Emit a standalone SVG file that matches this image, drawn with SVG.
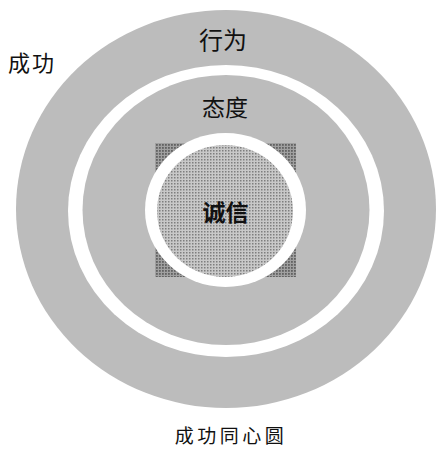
<svg xmlns="http://www.w3.org/2000/svg" width="436" height="450" viewBox="0 0 436 450">
  <style>
    .lbl { font-family: "Noto Sans CJK SC", "Noto Sans CJK TC", sans-serif; fill: #111111; text-anchor: middle; }
    .ring { fill: #bcbcbc; }
    .gap { fill: #ffffff; }
  </style>
  <defs>
    <pattern id="dots" width="3" height="3" patternUnits="userSpaceOnUse">
      <rect width="3" height="3" fill="#c8c8c8"/>
      <rect width="1.5" height="1.5" fill="#7e7e7e"/>
    </pattern>
    <pattern id="darkdots" width="3" height="3" patternUnits="userSpaceOnUse">
      <rect width="3" height="3" fill="#a0a0a0"/>
      <rect width="1.8" height="1.8" fill="#626262"/>
    </pattern>
  </defs>
  <rect width="436" height="450" fill="#ffffff"/>
  <g id="behavior">
    <ellipse class="ring" cx="226" cy="209" rx="210" ry="199"/>
    <ellipse class="gap" cx="226" cy="211" rx="158" ry="146"/>
    <text class="lbl" x="223" y="49" font-size="24">行为</text>
  </g>
  <g id="attitude">
    <ellipse class="ring" cx="226" cy="210" rx="143.5" ry="135"/>
    <rect x="155" y="143" width="141" height="134" fill="url(#darkdots)"/>
    <ellipse class="gap" cx="225.5" cy="210" rx="80.5" ry="77"/>
    <text class="lbl" x="225" y="116" font-size="23">态度</text>
  </g>
  <g id="integrity">
    <ellipse cx="225" cy="211" rx="68" ry="66" fill="url(#dots)"/>
    <text class="lbl" x="225.5" y="221" font-size="23" font-weight="bold" fill="#222222">诚信</text>
  </g>
  <g id="success">
    <text class="lbl" x="32" y="71" font-size="22" letter-spacing="2">成功</text>
  </g>
  <g id="title">
    <text class="lbl" x="231" y="443" font-size="19" letter-spacing="3.5">成功同心圆</text>
  </g>
  <g id="connectors"/>
</svg>
